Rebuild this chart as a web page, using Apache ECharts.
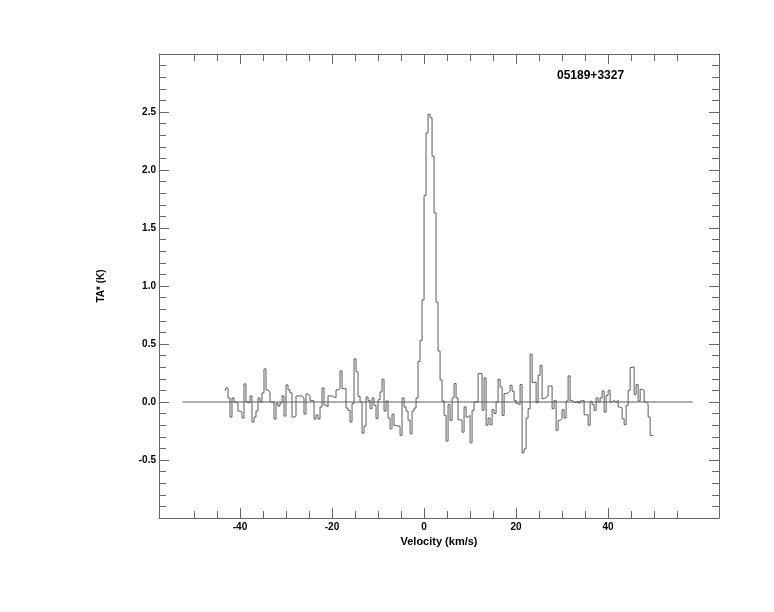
<!DOCTYPE html>
<html><head><meta charset="utf-8">
<script src="https://cdn.jsdelivr.net/npm/echarts@6/dist/echarts.min.js"></script>
<style>html,body{margin:0;padding:0;background:#fff}#c{width:774px;height:612px}</style>
</head><body><div id="c"></div>
<script>
const chartTitle = '05189+3327';
const xName = 'Velocity (km/s)';
const yName = 'TA* (K)';
// spectral channel grid: first channel centre and channel width (km/s)
const v0 = -43.26;
const dv = 0.4348;
// antenna temperature per channel (K)
const ta = [
 0.095, 0.121, 0.035, -0.130, 0.035, 0.000, -0.009, -0.078, -0.087, -0.138,
 0.156, 0.000, -0.009, 0.052, -0.173, -0.130, -0.078, 0.035, 0.000, 0.078,
 0.285, 0.104, 0.087, 0.000, 0.000, -0.147, -0.014, -0.035, -0.009, 0.052,
 -0.121, 0.147, 0.104, 0.078, -0.130, -0.121, 0.052, 0.052, 0.052, 0.035,
 -0.104, 0.069, 0.052, 0.014, 0.009, -0.147, -0.112, -0.147, -0.043, 0.121,
 -0.026, -0.043, 0.052, 0.052, 0.043, 0.037, 0.104, 0.115, 0.268, 0.115,
 0.115, -0.052, -0.072, -0.173, -0.014, 0.372, 0.260, 0.049, 0.000, -0.268,
 -0.208, 0.043, 0.014, -0.058, 0.035, -0.029, -0.144, 0.020, 0.087, 0.196,
 -0.078, 0.009, -0.138, -0.231, -0.104, -0.202, -0.208, -0.208, -0.288, 0.035,
 -0.043, -0.078, -0.156, -0.274, -0.078, -0.052, 0.035, 0.350, 0.530, 0.880,
 1.780, 2.320, 2.480, 2.450, 2.120, 1.630, 0.860, 0.440, 0.190, 0.010,
 -0.115, -0.337, -0.023, -0.159, 0.035, 0.159, 0.035, -0.153, -0.159, -0.260,
 -0.043, -0.130, -0.115, -0.352, -0.072, 0.000, 0.000, 0.245, 0.245, -0.072,
 0.208, -0.200, -0.138, -0.196, -0.066, -0.100, 0.000, 0.196, 0.130, -0.115,
 0.072, 0.078, 0.092, 0.144, 0.092, 0.014, -0.014, -0.023, 0.150, -0.438,
 -0.404, -0.138, -0.058, 0.412, 0.167, 0.173, -0.006, 0.230, 0.317, 0.029,
 0.040, 0.052, 0.138, 0.138, -0.058, 0.014, -0.245, -0.159, -0.144, -0.066,
 -0.138, 0.009, 0.225, 0.014, 0.000, -0.006, 0.009, -0.009, 0.009, 0.014,
 -0.110, -0.110, -0.200, 0.006, -0.023, -0.072, 0.035, 0.000, 0.035, 0.095,
 -0.087, 0.058, 0.101, 0.000, 0.014, 0.000, 0.014, -0.043, -0.052, -0.144,
 -0.196, -0.029, 0.101, 0.297, 0.303, 0.066, 0.150, 0.009, 0.110, 0.101,
 0.000, -0.014, -0.130, -0.288, -0.288
];
// zero-level reference line extent (km/s) and its level (K)
const baselineV = [-52.5, 58.4];
const baselineT = [0, 0];
// axes
const xRange = [-57.6, 64.1];
const xMajor = [-40, -20, 0, 20, 40];
const xMinor = [-50, -45, -35, -30, -25, -15, -10, -5, 5, 10, 15, 25, 30, 35, 45, 50, 55];
const yRange = [-1, 3];
const yStep = 0.5;

const FONT = "'Liberation Sans', Arial, sans-serif";
const AX = '#666666';
const LINE = '#5c5c5c';

const specData = ta.map((t, i) => [v0 + i * dv, t]);
const baseData = baselineV.map((v, i) => [v, baselineT[i]]);

function xAx(pos, ticks, len, main) {
  return {
    type: 'value', position: pos, min: xRange[0], max: xRange[1],
    axisLine: { show: main, onZero: false, lineStyle: { color: AX, width: 1 } },
    axisTick: { show: true, inside: true, length: len, customValues: ticks, lineStyle: { color: AX, width: 1 } },
    axisLabel: (pos === 'bottom' && main) ? { show: true, customValues: xMajor, margin: 4, color: '#000', fontSize: 10, fontWeight: 'bold', fontFamily: FONT } : { show: false },
    splitLine: { show: false },
    name: (pos === 'bottom' && main) ? xName : '',
    nameLocation: 'middle', nameGap: 11,
    nameTextStyle: { color: '#000', fontSize: 11, fontWeight: 'bold', fontFamily: FONT }
  };
}
function yAx(pos, main) {
  return {
    type: 'value', position: pos, min: yRange[0], max: yRange[1], interval: yStep,
    axisLine: { show: true, onZero: false, lineStyle: { color: AX, width: 1 } },
    axisTick: { show: true, inside: true, length: 10, lineStyle: { color: AX, width: 1 } },
    minorTick: { show: true, splitNumber: 5, length: 7, lineStyle: { color: AX, width: 1 } },
    axisLabel: main ? { show: true, showMinLabel: false, showMaxLabel: false, margin: 3,
      formatter: v => v.toFixed(1), color: '#000', fontSize: 10, fontWeight: 'bold', fontFamily: FONT } : { show: false },
    splitLine: { show: false }, minorSplitLine: { show: false },
    name: main ? yName : '', nameLocation: 'middle', nameRotate: 90, nameGap: 53,
    nameTextStyle: { color: '#000', fontSize: 10, fontWeight: 'bold', fontFamily: FONT }
  };
}

const chart = echarts.init(document.getElementById('c'), null, { renderer: 'canvas' });
chart.setOption({
  animation: false,
  backgroundColor: '#fff',
  title: { text: chartTitle, left: 557, top: 70, padding: 0, textStyle: { color: '#000', fontSize: 12, fontWeight: 'bold', fontFamily: FONT } },
  grid: { left: 159, right: 55, top: 54, bottom: 94, containLabel: false },
  xAxis: [xAx('bottom', xMajor, 10, true), xAx('bottom', xMinor, 7, false), xAx('top', xMajor, 10, true), xAx('top', xMinor, 7, false)],
  yAxis: [yAx('left', true), yAx('right', false)],
  series: [
    { type: 'line', xAxisIndex: 0, yAxisIndex: 0, step: 'middle', showSymbol: false, data: specData,
      lineStyle: { color: LINE, width: 1 }, silent: true },
    { type: 'line', xAxisIndex: 0, yAxisIndex: 0, showSymbol: false, data: baseData,
      lineStyle: { color: LINE, width: 1 }, silent: true }
  ]
});
</script></body></html>
